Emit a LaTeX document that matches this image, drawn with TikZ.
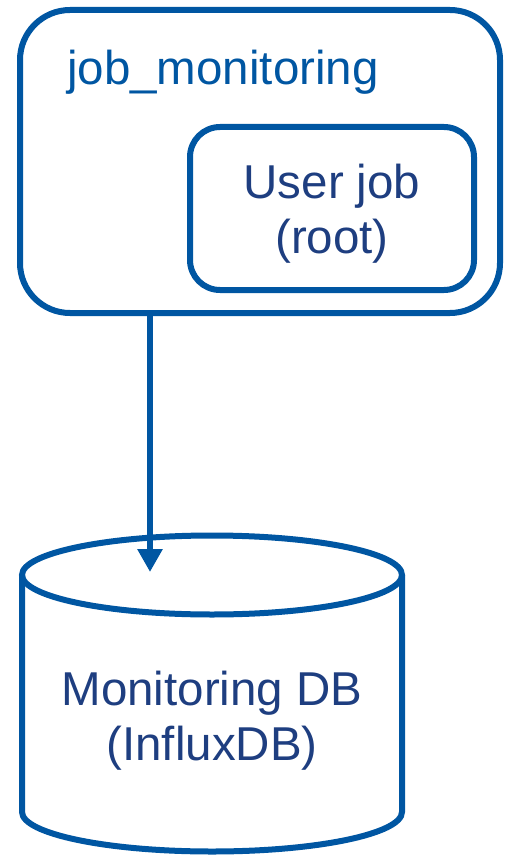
\documentclass[tikz,border=0pt]{standalone}
\usepackage{fontspec}
\setmainfont{Liberation Sans}
\usepackage{tikz}
\usetikzlibrary{arrows.meta}

\definecolor{lineblue}{RGB}{0,86,162}
\definecolor{textnavy}{RGB}{30,62,128}

\begin{document}
\begin{tikzpicture}[
    x=1pt,y=-1pt,
    box/.style={draw=lineblue,line width=6pt,inner sep=0pt,outer sep=0pt},
    dbline/.style={draw=lineblue,line width=6pt},
    bigtext/.style={font=\fontsize{47.5}{55}\selectfont,align=center},
    flow/.style={draw=lineblue,line width=6pt,-{Triangle[width=24pt,length=23pt]}}]

  \useasboundingbox (0,0) rectangle (504,858);

  \node[box,rounded corners=50pt,minimum width=480pt,minimum height=303pt]
    (monitor) at (260,161.5) {};
  \node[bigtext,text=lineblue,anchor=base west,inner sep=0pt]
    (monlabel) at (67,85) {job\_monitoring};

  \node[box,bigtext,text=textnavy,rounded corners=30pt,
        minimum width=284pt,minimum height=163pt,text depth=0pt]
    (userjob) at (332,208.5) {User job\\(root)};

  % database cylinder
  \draw[dbline] (212,575) ellipse [x radius=190pt,y radius=39.5pt];
  \draw[dbline] (22,575) -- (22,812)
    arc [start angle=180,end angle=360,x radius=190pt,y radius=39.5pt]
    -- (402,575);
  \node[bigtext,text=textnavy] (influx) at (212,721) {Monitoring DB\\(InfluxDB)};

  \coordinate (dbtop) at (150,572);
  \draw[flow] (monitor.south -| dbtop) -- (dbtop);
\end{tikzpicture}
\end{document}
